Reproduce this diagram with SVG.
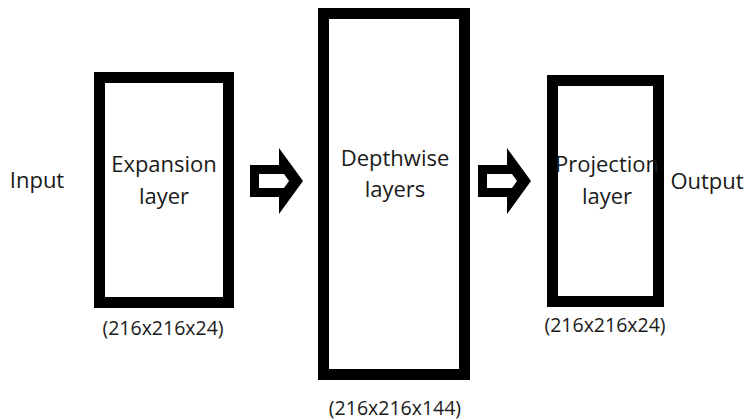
<svg xmlns="http://www.w3.org/2000/svg" width="745" height="420" viewBox="0 0 745 420">
  <style>
    .box { fill: #fff; stroke: #000; stroke-width: 11; }
    .lbl { font-family: "Open Sans", "Noto Sans", "Liberation Sans", sans-serif; fill: #1a1a1a; text-anchor: middle; }
    .big { font-size: 22px; }
    .dim { font-size: 19.5px; }
    .arrow-outer { fill: #000; }
    .arrow-inner { fill: #fff; }
  </style>
  <defs>
    <g id="block-arrow">
      <polygon class="arrow-outer" points="0,15 29,15 29,-2 53,31 29,64 29,47 0,47"/>
      <polygon class="arrow-inner" points="9,24 34,24 39,31 34,38 9,38"/>
    </g>
  </defs>
  <rect width="745" height="420" fill="#fff"/>

  <g id="input">
    <text class="lbl big" x="37" y="188">Input</text>
  </g>

  <g id="expansion">
    <rect class="box" x="99.5" y="77.5" width="129" height="225"/>
    <text class="lbl big" x="164" y="172">Expansion</text>
    <text class="lbl big" x="164" y="204">layer</text>
    <text class="lbl dim" x="163" y="335">(216x216x24)</text>
  </g>

  <g id="depthwise">
    <rect class="box" x="323.5" y="13.5" width="141" height="361"/>
    <text class="lbl big" x="395" y="166">Depthwise</text>
    <text class="lbl big" x="395" y="197">layers</text>
    <text class="lbl dim" x="395" y="415">(216x216x144)</text>
  </g>

  <g id="projection">
    <rect class="box" x="552.5" y="80.5" width="106" height="221"/>
    <text class="lbl big" x="607" y="172">Projection</text>
    <text class="lbl big" x="607" y="204">layer</text>
    <text class="lbl dim" x="605" y="332">(216x216x24)</text>
  </g>

  <g id="output">
    <text class="lbl big" x="707" y="189">Output</text>
  </g>

  <g id="connectors">
    <use href="#block-arrow" x="250" y="150"/>
    <use href="#block-arrow" x="478" y="150"/>
  </g>
</svg>
